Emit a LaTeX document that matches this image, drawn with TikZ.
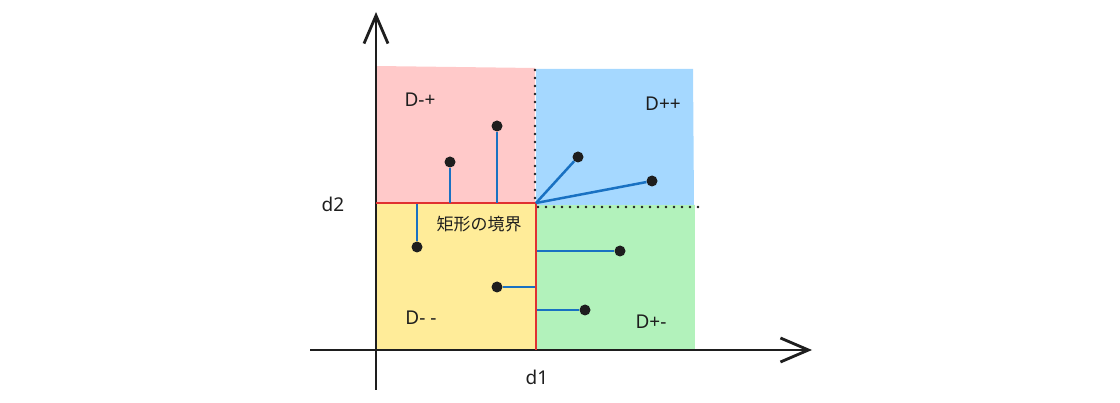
\documentclass[tikz,border=0pt]{standalone}
\usepackage{fontspec}
\setmainfont{Noto Sans}
\newfontfamily\cjk{Noto Sans CJK JP}
\usetikzlibrary{arrows.meta}
\definecolor{rosa}{HTML}{FFC9C9}
\definecolor{azzurro}{HTML}{A5D8FF}
\definecolor{verde}{HTML}{B2F2BB}
\definecolor{giallo}{HTML}{FFEC99}
\definecolor{rosso}{HTML}{E03131}
\definecolor{blu}{HTML}{1971C2}
\definecolor{nero}{HTML}{1E1E1E}
\begin{document}
\begin{tikzpicture}[x=1pt,y=-1pt,
	asse/.style={draw=nero,line width=2.8pt,-{Straight Barb[length=28pt,width=24pt,line width=2.8pt]}},
	punto/.style={circle,fill=nero,inner sep=0pt,minimum size=11pt},
	stelo/.style={draw=blu,line width=2.5pt},
	puntini/.style={draw=nero,line width=2.6pt,line cap=round,dash pattern=on 0pt off 8pt},
	etichetta/.style={text=nero,font=\fontsize{19}{23}\selectfont}]
	\useasboundingbox (0,0) rectangle (1120,403);
	% regioni
	\fill[rosa] (376,66) -- (535,68) -- (535,203) -- (376,203) -- cycle;
	\fill[azzurro] (536,69) -- (693,69) -- (694,205) -- (536,205) -- cycle;
	\fill[verde] (536,205) -- (695,205) -- (695,350) -- (536,350) -- cycle;
	\fill[giallo] (376,203) -- (535,203) -- (535,350) -- (376,350) -- cycle;
	% bordi tratteggiati
	\draw[puntini] (535,70) -- (535,203);
	\draw[puntini] (538,207) -- (703,207);
	% assi
	\coordinate (O) at (376,350);
	\coordinate (ytop) at (376,12);
	\coordinate (ybot) at (376,390);
	\coordinate (xsx) at (310,350);
	\coordinate (xdx) at (812,350);
	\draw[asse] (ybot) -- (ytop);
	\draw[asse] (xsx) -- (xdx);
	% bordo del rettangolo
	\coordinate (angolo) at (536,203);
	\draw[rosso,line width=2.5pt] (376,203) -- (angolo) -- (536,350);
	% punti
	\node[punto] (p1) at (450,162) {};
	\node[punto] (p2) at (497,126) {};
	\node[punto] (p3) at (578,157) {};
	\node[punto] (p4) at (652,181) {};
	\node[punto] (p5) at (417,247) {};
	\node[punto] (p6) at (497,287) {};
	\node[punto] (p7) at (620,251) {};
	\node[punto] (p8) at (585,310) {};
	\coordinate (b1) at (450,203);
	\coordinate (b2) at (497,203);
	\coordinate (b5) at (417,204);
	\coordinate (b6) at (535,287);
	\coordinate (b7) at (537,251);
	\coordinate (b8) at (537,310);
	\draw[stelo] (b1) -- (p1);
	\draw[stelo] (b2) -- (p2);
	\draw[stelo] (angolo) -- (p3);
	\draw[stelo] (angolo) -- (p4);
	\draw[stelo] (b5) -- (p5);
	\draw[stelo] (b6) -- (p6);
	\draw[stelo] (b7) -- (p7);
	\draw[stelo] (b8) -- (p8);
	% etichette
	\node[etichetta] (dmp) at (420,100) {D-+};
	\node[etichetta] (dpp) at (663,104) {D++};
	\node[etichetta] (dmm) at (421,318) {D- -};
	\node[etichetta] (dpm) at (651,322) {D+-};
	\node[etichetta] (d2) at (333,204) {d2};
	\node[etichetta] (d1) at (537,377) {d1};
	\node[etichetta,font=\cjk\fontsize{17}{21}\selectfont] (bordo) at (479,224) {矩形の境界};
\end{tikzpicture}
\end{document}
